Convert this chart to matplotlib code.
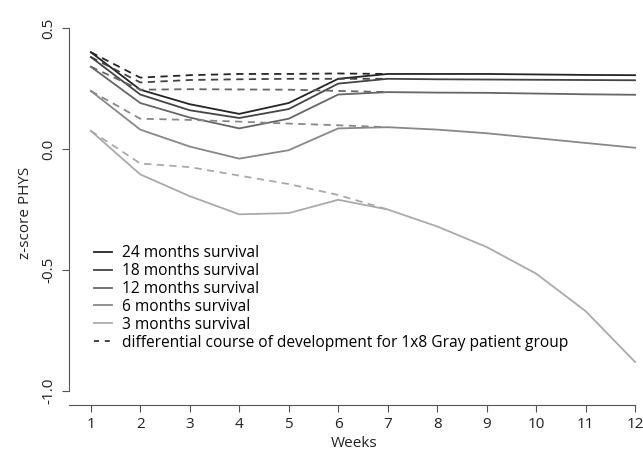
import matplotlib.pyplot as plt

plt.rcParams['font.family'] = ['Open Sans', 'DejaVu Sans']

weeks = list(range(1, 13))
weeks_diff = list(range(1, 8))

labels = ["24 months survival", "18 months survival", "12 months survival",
          "6 months survival", "3 months survival"]
colors = ["#252525", "#444444", "#666666", "#888888", "#aaaaaa"]

# observed course per survival group (weeks 1-12)
surv_24 = [0.40, 0.245, 0.185, 0.145, 0.19, 0.29, 0.31, 0.31, 0.31, 0.308, 0.306, 0.305]
surv_18 = [0.38, 0.225, 0.16, 0.128, 0.165, 0.27, 0.29, 0.288, 0.287, 0.286, 0.285, 0.284]
surv_12 = [0.34, 0.19, 0.13, 0.085, 0.125, 0.225, 0.235, 0.233, 0.232, 0.229, 0.226, 0.224]
surv_6 = [0.24, 0.08, 0.01, -0.04, -0.005, 0.085, 0.09, 0.08, 0.065, 0.045, 0.025, 0.005]
surv_3 = [0.075, -0.105, -0.195, -0.27, -0.265, -0.21, -0.25, -0.32, -0.405, -0.515, -0.67, -0.88]

# differential course for the 1x8 Gray group (weeks 1-7)
diff_24 = [0.40, 0.295, 0.305, 0.31, 0.31, 0.312, 0.31]
diff_18 = [0.38, 0.275, 0.285, 0.288, 0.29, 0.29, 0.29]
diff_12 = [0.34, 0.245, 0.247, 0.246, 0.245, 0.24, 0.235]
diff_6 = [0.24, 0.125, 0.12, 0.113, 0.105, 0.098, 0.09]
diff_3 = [0.075, -0.06, -0.075, -0.11, -0.145, -0.19, -0.25]

solid = [surv_24, surv_18, surv_12, surv_6, surv_3]
dashed = [diff_24, diff_18, diff_12, diff_6, diff_3]

fig = plt.figure(figsize=(6.43, 4.57), dpi=100)
ax = fig.add_axes([69/643, 52/457, 571/643, 385/457])

for ys, c, lab in zip(solid, colors, labels):
    ax.plot(weeks, ys, color=c, lw=1.3, label=lab)
for ys, c in zip(dashed, colors):
    ax.plot(weeks_diff, ys, color=c, lw=1.3, ls=(0, (4, 3)))

ax.plot([], [], color="#252525", lw=1.2, ls=(0, (3, 3.5)),
        label="differential course of development for 1x8 Gray patient group")

x0, x1 = 0.56, 12.10
ax.set_xlim(x0, x1)
ax.set_ylim(-1.058, 0.533)
ax.set_xticks(weeks)
ax.set_yticks([-1.0, -0.5, 0.0, 0.5])
ax.set_yticklabels(["-1.0", "-0.5", "0.0", "0.5"])
for s in ["top", "right"]:
    ax.spines[s].set_visible(False)
ax.spines["left"].set_bounds(-1.0, 0.5)
ax.spines["bottom"].set_bounds(x0, 12)
for s in ["left", "bottom"]:
    ax.spines[s].set_color("#555555")
ax.tick_params(colors="#555555", labelcolor="#222222", labelsize=11, length=5)
ax.tick_params(axis="y", pad=4, labelrotation=90)
for t in ax.get_yticklabels():
    t.set_va("center")
ax.set_xlabel("Weeks", fontsize=11, color="#222222", labelpad=3)
ax.set_ylabel("z-score PHYS", fontsize=11, color="#222222", labelpad=6)

ax.legend(loc="upper left", bbox_to_anchor=(0.043, 0.415), frameon=False,
          fontsize=11.2, handlelength=1.2, handletextpad=0.6,
          labelspacing=0.12, borderaxespad=0.0, borderpad=0.0)

fig.savefig("out.png", dpi=100)
